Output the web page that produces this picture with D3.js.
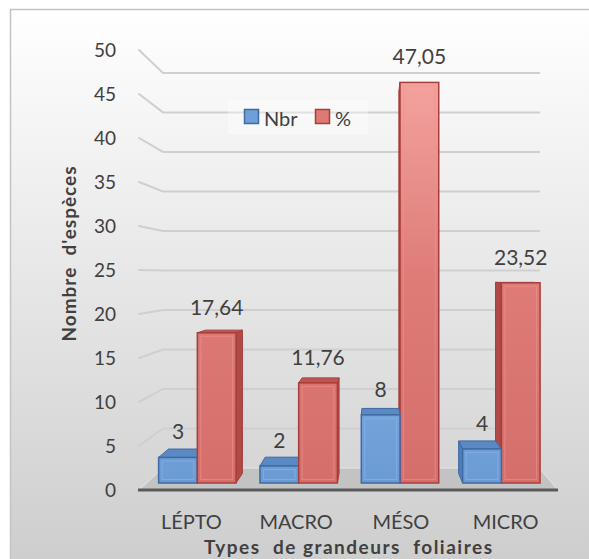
<!DOCTYPE html>
<html>
<head>
<meta charset="utf-8">
<script src="https://cdn.jsdelivr.net/npm/d3@7"></script>
<style>
  html, body { margin: 0; padding: 0; background: #ffffff; }
  svg { display: block; font-family: "Lato", "Open Sans", sans-serif; }
</style>
</head>
<body>
<svg id="chart" width="589" height="559"></svg>
<script>
// Leaf-size classes and their species counts / shares
const categories = ["LÉPTO", "MACRO", "MÉSO", "MICRO"];
const seriesNames = ["Nbr", "%"];
const nbrValues = [3, 2, 8, 4];
const pctValues = [17.64, 11.76, 47.05, 23.52];
const yTicks = [0, 5, 10, 15, 20, 25, 30, 35, 40, 45, 50];
const yTitle = "Nombre  d'espèces";
const xTitle = "Types  de grandeurs  foliaires";

const svg = d3.select("#chart");
const W = 589, H = 559;

// Perspective set-up: front plane (s = 1) projects toward a vanishing point
const VP = [374.5, 274.5];
const sWall = 0.898;      // back wall / back edge of floor
const sBarFront = 0.9675; // front faces of bars
const sBarBack = 0.923;   // back faces of bars
const proj = (X, Y, s) => [VP[0] + (X - VP[0]) * s, VP[1] + (Y - VP[1]) * s];
const poly = pts => "M" + pts.map(p => p.join(",")).join("L") + "Z";

const y = d3.scaleLinear().domain([0, 50]).range([490, 50]);
const x0 = d3.scaleBand().domain(categories).range([139, 558])
  .paddingInner(0.236).paddingOuter(0.118);
const x1 = d3.scaleBand().domain(seriesNames).range([0, x0.bandwidth()]);

const defs = svg.append("defs");
const bg = defs.append("linearGradient").attr("id", "bg")
  .attr("x1", 0).attr("y1", 0).attr("x2", 0).attr("y2", 1);
bg.append("stop").attr("offset", 0).attr("stop-color", "#ffffff");
bg.append("stop").attr("offset", 1).attr("stop-color", "#cdcdcd");

const redGrad = defs.append("linearGradient").attr("id", "redFront")
  .attr("gradientUnits", "userSpaceOnUse")
  .attr("x1", 0).attr("y1", 60).attr("x2", 0).attr("y2", 490);
redGrad.append("stop").attr("offset", 0).attr("stop-color", "#f6a6a3");
redGrad.append("stop").attr("offset", 0.5).attr("stop-color", "#de7c78");
redGrad.append("stop").attr("offset", 1).attr("stop-color", "#d46e6a");

const blueGrad = defs.append("linearGradient").attr("id", "blueFront")
  .attr("gradientUnits", "userSpaceOnUse")
  .attr("x1", 0).attr("y1", 380).attr("x2", 0).attr("y2", 490);
blueGrad.append("stop").attr("offset", 0).attr("stop-color", "#79a7de");
blueGrad.append("stop").attr("offset", 1).attr("stop-color", "#6a9ad3");

// Chart area background
svg.append("rect").attr("x", 10.5).attr("y", 9.5).attr("width", W).attr("height", H)
  .attr("fill", "url(#bg)").attr("stroke", "#c4c4c4").attr("stroke-width", 1.5);

const plot = svg.append("g");
const xL = x0.range()[0], xR = x0.range()[1];

// Wall gridlines: left side wall diagonal + back wall horizontal
const grid = plot.append("g").attr("fill", "none").attr("stroke", "#cfcfcf")
  .attr("stroke-width", 2).attr("stroke-linecap", "round");
yTicks.filter(v => v > 0).forEach(v => {
  const a = proj(xL, y(v), 1), b = proj(xL, y(v), sWall), c = proj(xR, y(v), sWall);
  grid.append("path").attr("d", `M${a}L${b}L${c}`);
});

// Floor
const floorPts = [proj(xL, y(0), 1), proj(xL, y(0), sWall), proj(xR, y(0), sWall), proj(xR, y(0), 1)];
plot.append("path").attr("d", poly(floorPts)).attr("fill", "#c3c3c3")
  .attr("stroke", "#e6e6e6").attr("stroke-width", 1);
plot.append("line")
  .attr("x1", floorPts[0][0] - 1).attr("x2", floorPts[3][0])
  .attr("y1", floorPts[0][1]).attr("y2", floorPts[3][1])
  .attr("stroke", "#5a5a5a").attr("stroke-width", 3);

// Bars
const styles = {
  "Nbr": { front: "url(#blueFront)", side: "#4f7db7", top: "#5a89c4", edge: "#3f6aa3", inner: "#8db6e6" },
  "%":   { front: "url(#redFront)",  side: "#b04a46", top: "#bf5551", edge: "#a63f3b", inner: "#ee9592" }
};
const bars = [];
categories.forEach((c, i) => {
  bars.push({ cat: c, series: "Nbr", value: nbrValues[i] });
  bars.push({ cat: c, series: "%", value: pctValues[i] });
});
bars.forEach(b => {
  b.X0 = x0(b.cat) + x1(b.series);
  b.X1 = b.X0 + x1.bandwidth();
});
// farther from the vanishing point first
bars.sort((a, b) => Math.abs((b.X0 + b.X1) / 2 - VP[0]) - Math.abs((a.X0 + a.X1) / 2 - VP[0]));

const fmt = d3.formatLocale({ decimal: ",", thousands: " ", grouping: [3], currency: ["", ""] });
const fmtPct = fmt.format(".2f");

const barG = plot.append("g");
bars.forEach(b => {
  const st = styles[b.series];
  const yT = y(b.value), yB = y(0);
  const g = barG.append("g");
  // side face
  if (b.X1 < VP[0]) {
    g.append("path").attr("d", poly([proj(b.X1, yT, sBarFront), proj(b.X1, yT, sBarBack), proj(b.X1, yB, sBarBack), proj(b.X1, yB, sBarFront)]))
      .attr("fill", st.side).attr("stroke", st.edge).attr("stroke-width", 1);
  } else if (b.X0 > VP[0]) {
    g.append("path").attr("d", poly([proj(b.X0, yT, sBarFront), proj(b.X0, yT, sBarBack), proj(b.X0, yB, sBarBack), proj(b.X0, yB, sBarFront)]))
      .attr("fill", st.side).attr("stroke", st.edge).attr("stroke-width", 1);
  }
  // top face
  if (yT > VP[1]) {
    g.append("path").attr("d", poly([proj(b.X0, yT, sBarFront), proj(b.X1, yT, sBarFront), proj(b.X1, yT, sBarBack), proj(b.X0, yT, sBarBack)]))
      .attr("fill", st.top).attr("stroke", st.edge).attr("stroke-width", 1);
  }
  // front face
  const f0 = proj(b.X0, yT, sBarFront), f1 = proj(b.X1, yB, sBarFront);
  g.append("rect").attr("x", f0[0]).attr("y", f0[1])
    .attr("width", f1[0] - f0[0]).attr("height", f1[1] - f0[1])
    .attr("fill", st.front).attr("stroke", st.edge).attr("stroke-width", 1.5);
  // bevel
  const ins = 3.5;
  if (f1[1] - f0[1] > 2 * ins) {
    g.append("rect").attr("x", f0[0] + ins).attr("y", f0[1] + ins)
      .attr("width", f1[0] - f0[0] - 2 * ins).attr("height", f1[1] - f0[1] - 2 * ins)
      .attr("fill", "none").attr("stroke", st.inner).attr("stroke-opacity", 0.6).attr("stroke-width", 1);
  }
  // value label
  g.append("text").attr("x", (f0[0] + f1[0]) / 2).attr("y", f0[1] - 18)
    .attr("text-anchor", "middle").attr("font-size", 21).attr("fill", "#404040")
    .text(b.series === "%" ? fmtPct(b.value) : b.value);
});

// Value axis (front plane)
const yAxis = svg.append("g").attr("transform", `translate(${xL},0)`)
  .call(d3.axisLeft(y).tickValues(yTicks).tickSize(0).tickPadding(23));
yAxis.select(".domain").remove();
yAxis.selectAll("text").attr("font-size", 19).attr("fill", "#404040").attr("font-family", "Lato");

// Category axis
const xAxis = svg.append("g").attr("transform", `translate(0,${y(0)})`)
  .call(d3.axisBottom(x0).tickSize(0).tickPadding(25));
xAxis.select(".domain").remove();
xAxis.selectAll("text").attr("font-size", 20).attr("fill", "#404040").attr("font-family", "Lato");

// Axis titles
svg.append("text").attr("transform", "translate(76,254) rotate(-90)")
  .attr("text-anchor", "middle").attr("font-size", 19).attr("font-weight", "bold")
  .attr("textLength", 175).attr("lengthAdjust", "spacing")
  .attr("fill", "#404040").style("white-space", "pre").text(yTitle);
svg.append("text").attr("x", 348).attr("y", 554)
  .attr("text-anchor", "middle").attr("font-size", 19).attr("font-weight", "bold")
  .attr("textLength", 288).attr("lengthAdjust", "spacing")
  .attr("fill", "#404040").style("white-space", "pre").text(xTitle);

// Legend
const legend = svg.append("g");
legend.append("rect").attr("x", 228).attr("y", 100).attr("width", 140).attr("height", 34)
  .attr("fill", "#ffffff").attr("fill-opacity", 0.35);
const legendColors = { "Nbr": ["#6f9fd8", "#3f6aa3"], "%": ["#dd7a76", "#a63f3b"] };
const legendX = { "Nbr": 244, "%": 315 };
seriesNames.forEach(s => {
  legend.append("rect").attr("x", legendX[s] + 0.5).attr("y", 109.5).attr("width", 14).attr("height", 14)
    .attr("fill", legendColors[s][0]).attr("stroke", legendColors[s][1]).attr("stroke-width", 1.5);
  legend.append("text").attr("x", legendX[s] + 20).attr("y", 126)
    .attr("font-size", 20).attr("fill", "#404040").text(s);
});
</script>
</body>
</html>
